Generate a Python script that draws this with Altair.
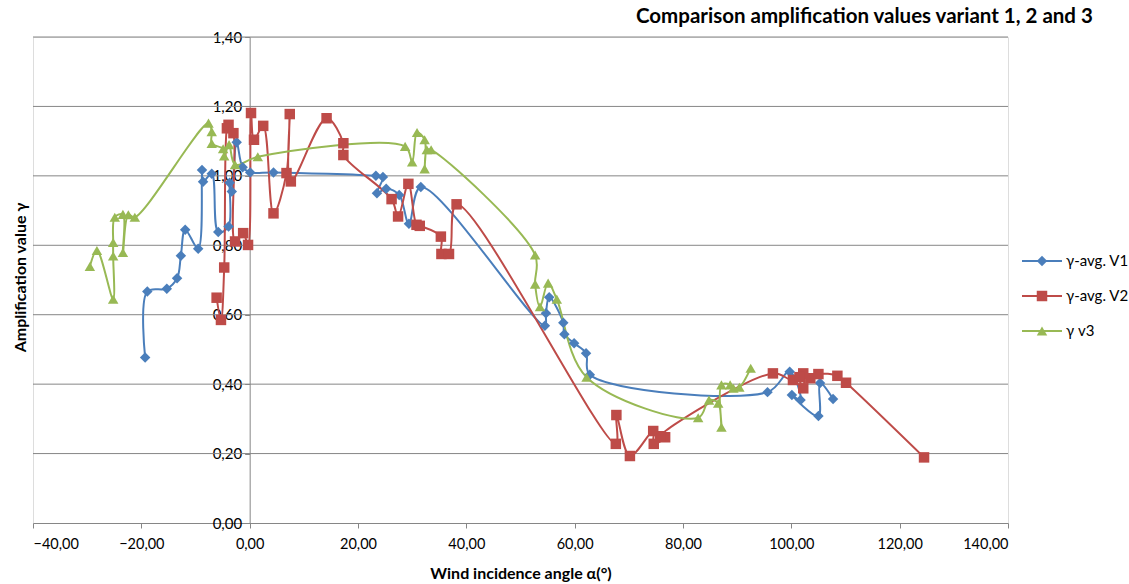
import altair as alt
import pandas as pd

# ---------------- data ----------------
series_names = ["γ-avg. V1", "γ-avg. V2", "γ v3"]

v1_x = [-19.3, -18.9, -15.3, -13.4, -12.7, -11.9, -9.5, -8.8, -8.6, -7.0,
        -5.8, -3.9, -3.7, -3.3, -2.4, -1.3, 0.1, 4.4,
        23.3, 24.6, 23.5, 25.2, 27.6, 29.4, 31.6,
        54.5, 54.7, 55.3, 57.9, 58.1, 59.9, 62.1, 62.8,
        95.6, 99.7, 101.7, 100.1, 105.0, 105.3, 107.7]
v1_y = [0.477, 0.667, 0.675, 0.705, 0.770, 0.845, 0.790, 1.017, 0.983, 1.006,
        0.838, 0.854, 0.980, 0.955, 1.097, 1.025, 1.010, 1.010,
        1.000, 0.997, 0.950, 0.963, 0.945, 0.862, 0.968,
        0.568, 0.604, 0.650, 0.577, 0.544, 0.518, 0.489, 0.427,
        0.377, 0.436, 0.354, 0.369, 0.308, 0.403, 0.357]

v2_x = [-6.1, -5.3, -4.7, -4.2, -3.9, -3.0, -2.7, -1.2, -0.3, 0.25,
        0.8, 2.5, 4.4, 6.8, 7.4, 7.6, 14.2, 17.3, 17.3, 26.2,
        27.4, 29.3, 30.8, 31.4, 35.3, 35.4, 36.8, 38.2, 67.6, 67.7,
        70.2, 74.5, 74.6, 76.7, 75.8, 96.6, 100.3, 102.2, 102.2, 101.5,
        103.5, 105.0, 108.5, 110.1, 124.5]
v2_y = [0.649, 0.585, 0.736, 1.137, 1.147, 1.123, 0.811, 0.835, 0.801, 1.181,
        1.104, 1.144, 0.892, 1.008, 1.178, 0.984, 1.166, 1.094, 1.060, 0.933,
        0.883, 0.977, 0.859, 0.856, 0.825, 0.775, 0.775, 0.918, 0.228, 0.311,
        0.193, 0.265, 0.228, 0.247, 0.250, 0.431, 0.412, 0.431, 0.388, 0.420,
        0.417, 0.429, 0.424, 0.404, 0.189]

v3_x = [-29.5, -28.2, -25.2, -25.2, -25.2, -24.9, -23.4, -23.4, -22.4, -21.2,
        -7.6, -7.0, -7.0, -4.9, -4.7, -3.8, -2.7, 1.5,
        28.7, 30.0, 30.9, 32.3, 32.3, 32.7, 33.5,
        52.7, 52.7, 53.6, 55.1, 56.7, 62.2,
        82.8, 84.8, 86.5, 87.1, 87.1, 88.7, 89.3, 90.4, 92.5]
v3_y = [0.739, 0.785, 0.645, 0.769, 0.808, 0.881, 0.889, 0.779, 0.888, 0.881,
        1.152, 1.127, 1.093, 1.078, 1.057, 1.090, 1.032, 1.055,
        1.085, 1.040, 1.125, 1.104, 1.020, 1.075, 1.075,
        0.772, 0.688, 0.623, 0.691, 0.645, 0.420,
        0.303, 0.354, 0.345, 0.276, 0.398, 0.398, 0.388, 0.391, 0.446]

x_ticks = [-40, -20, 0, 20, 40, 60, 80, 100, 120, 140]
y_ticks = [0.0, 0.2, 0.4, 0.6, 0.8, 1.0, 1.2, 1.4]

# ---------------- styling ----------------
colors = ["#4A7EBB", "#BE4B48", "#98B954"]
shapes = ["diamond", "square", "triangle-up"]
sizes = [110, 110, 110]
GRID = "#868686"
FONT = "Lato"

rows = []
for name, xs, ys in zip(series_names, [v1_x, v2_x, v3_x], [v1_y, v2_y, v3_y]):
    for i, (a, b) in enumerate(zip(xs, ys)):
        rows.append({"series": name, "idx": i, "x": a, "y": b})
df = pd.DataFrame(rows)

W, H = 975, 486
x_offset0 = W * 40 / 180.0  # pixel position of x = 0 inside the plot

xscale = alt.Scale(domain=[-40, 140], nice=False, zero=False)
yscale = alt.Scale(domain=[0, 1.4], nice=False, zero=False)
label_expr = "replace(format(datum.value, '.2f'), '.', ',')"

x_axis = alt.Axis(values=x_ticks, labelExpr=label_expr, title="Wind incidence angle α(°)",
                  grid=False, domainColor=GRID, tickColor=GRID, tickSize=5,
                  labelFont=FONT, labelFontSize=14.5, labelColor="black", labelPadding=9,
                  titleFont=FONT, titleFontSize=16, titleFontWeight="bold",
                  titleColor="black", titlePadding=15)
y_axis = alt.Axis(values=y_ticks, labelExpr=label_expr, title="Amplification value γ",
                  grid=False, domainColor=GRID, tickColor=GRID, tickSize=5,
                  offset=-x_offset0,
                  labelFont=FONT, labelFontSize=15, labelColor="black", labelPadding=3,
                  titleFont=FONT, titleFontSize=16, titleFontWeight="bold",
                  titleColor="black", titleX=-13 - x_offset0, titleY=H / 2 - 3,
                  titleAngle=-90, titleAlign="center", titleBaseline="middle")

color = alt.Color("series:N", scale=alt.Scale(domain=series_names, range=colors), legend=None)
shape = alt.Shape("series:N", scale=alt.Scale(domain=series_names, range=shapes), legend=None)
size = alt.Size("series:N", scale=alt.Scale(domain=series_names, range=sizes), legend=None)

grid_df = pd.DataFrame({"g": y_ticks[1:]})
grid = alt.Chart(grid_df).mark_rule(color=GRID, strokeWidth=1).encode(
    y=alt.Y("g:Q", scale=yscale, axis=y_axis),
    x=alt.value(0), x2=alt.value(W))

base = alt.Chart(df)
lines = base.mark_line(interpolate="catmull-rom", strokeWidth=2).encode(
    x=alt.X("x:Q", scale=xscale, axis=x_axis),
    y=alt.Y("y:Q", scale=yscale, axis=y_axis),
    color=color, detail="series:N", order=alt.Order("idx:Q"))
points = base.mark_point(filled=True, opacity=1).encode(
    x=alt.X("x:Q", scale=xscale, axis=x_axis),
    y=alt.Y("y:Q", scale=yscale, axis=y_axis),
    color=color, shape=shape, size=size)

# ---------------- manual legend (Excel style: line through marker) ----------------
legend_layers = []
leg_y0 = 261 - 37
leg_step = 35
for k, name in enumerate(series_names):
    yy = leg_y0 + k * leg_step
    legend_layers.append(
        alt.Chart(pd.DataFrame({"series": [name]})).mark_rule(color=colors[k], strokeWidth=2).encode(
            x=alt.value(W + 14), x2=alt.value(W + 54), y=alt.value(yy)))
    legend_layers.append(
        alt.Chart(pd.DataFrame({"series": [name]})).mark_point(
            filled=True, opacity=1, shape=shapes[k], size=sizes[k], color=colors[k]).encode(
            x=alt.value(W + 34), y=alt.value(yy)))
    legend_layers.append(
        alt.Chart(pd.DataFrame({"series": [name]})).mark_text(
            align="left", baseline="middle", font=FONT, fontSize=15, color="black").encode(
            x=alt.value(W + 58), y=alt.value(yy), text="series:N"))

chart = alt.layer(grid, lines, points, *legend_layers).properties(
    width=W, height=H,
    title=alt.TitleParams("Comparison amplification values variant 1, 2 and 3",
                          anchor="start", dx=624, offset=3, font=FONT, fontSize=20.5,
                          fontWeight="bold", color="black"),
    autosize=alt.AutoSizeParams(type="none"),
    padding={"left": 33, "top": 37, "right": 121, "bottom": 61},
).configure_view(stroke=None).configure(background="white")

chart.save("out.html", embed_options={"renderer": "svg", "actions": False})
